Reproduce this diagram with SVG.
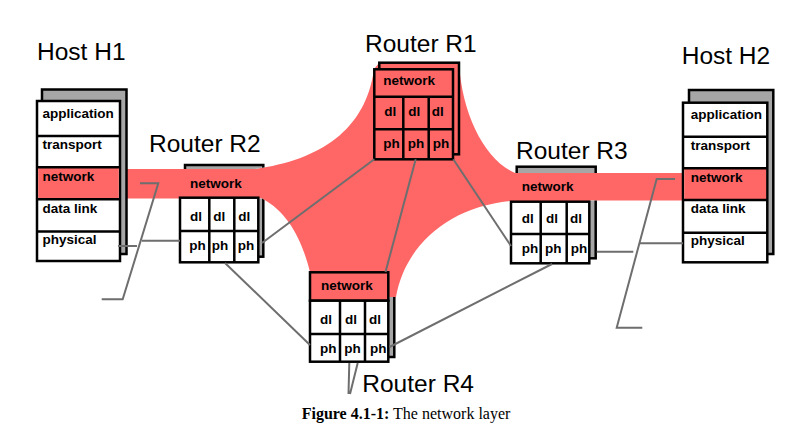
<svg xmlns="http://www.w3.org/2000/svg" xmlns:xlink="http://www.w3.org/1999/xlink" width="795" height="436" viewBox="0 0 795 436">
<style>
.box{fill:#ffffff;stroke:#000000;stroke-width:2.5}
.pbox{fill:#ff6666;stroke:#000000;stroke-width:2.5}
.shadow{fill:#a6a6a6;stroke:#000000;stroke-width:2.5}
.grid{stroke:#000000;stroke-width:2.5;fill:none}
.pink{fill:#ff6666;stroke:none}
.lbl{font-family:"Liberation Sans",Arial,sans-serif;font-size:24.5px;fill:#000000}
.cell{font-family:"Liberation Sans",Arial,sans-serif;font-size:13.5px;font-weight:bold;fill:#000000}
.conn{fill:none;stroke:#6e6e6e;stroke-width:2}
.cap{font-family:"Liberation Serif","Times New Roman",serif;font-size:16px;fill:#000000}
</style>
<defs>
<path id="pinkShape" d="M120,169 L255,169 C320,160 366,130 374,69 L379,63 L459,63 C462,115 485,160 515,173 L683,173 L683,200.5 L515,200.5 C450,205 405,245 396,297 L310,297 L310,272 C302,240 288,212 262,198.5 L120,198.5 Z"/>
<mask id="noPink" maskUnits="userSpaceOnUse" x="0" y="0" width="795" height="436">
<rect x="0" y="0" width="795" height="436" fill="#ffffff"/>
<use xlink:href="#pinkShape" fill="#000000"/>
</mask>
</defs>
<rect x="0" y="0" width="795" height="436" fill="#ffffff"/>

<g id="datapath">
<use xlink:href="#pinkShape" class="pink"/>
</g>

<g id="H1">
<text class="lbl" x="37" y="60">Host H1</text>
<rect class="shadow" x="42" y="89.5" width="84.5" height="164.5"/>
<rect class="box" x="37" y="101" width="83" height="160"/>
<rect class="pink" x="38.2" y="167.3" width="80.6" height="32"/>
<path class="grid" d="M37,136H120M37,167.3H120M37,199.3H120M37,231.5H120"/>
<text class="cell" x="42.5" y="117.5">application</text>
<text class="cell" x="42.5" y="149">transport</text>
<text class="cell" x="42.5" y="180.5">network</text>
<text class="cell" x="42.5" y="212.5">data link</text>
<text class="cell" x="42.5" y="244">physical</text>
</g>

<g id="R2">
<text class="lbl" x="149" y="152.3">Router R2</text>
<rect class="shadow" x="185" y="165" width="78.3" height="91.7" mask="url(#noPink)"/>
<rect class="pink" x="180" y="169" width="78.3" height="29"/>
<text class="cell" x="190" y="188.3">network</text>
<rect class="box" x="180" y="197.7" width="78.3" height="64.6"/>
<path class="grid" d="M180,231H258.3M209.3,197.7V262.3M234.3,197.7V262.3"/>
<text class="cell" x="190" y="220.7">dl</text>
<text class="cell" x="213.3" y="220.7">dl</text>
<text class="cell" x="238.3" y="220.7">dl</text>
<text class="cell" x="189.3" y="250">ph</text>
<text class="cell" x="211.7" y="250">ph</text>
<text class="cell" x="237.7" y="250">ph</text>
</g>

<g id="R1">
<text class="lbl" x="365" y="52">Router R1</text>
<rect class="pbox" x="379.3" y="62.7" width="79.7" height="91.6"/>
<rect class="pbox" x="374.3" y="69.3" width="78.7" height="90"/>
<path class="grid" d="M374.3,96.7H453M374.3,129.3H453M403.3,96.7V159.3M428.7,96.7V159.3"/>
<text class="cell" x="383.3" y="85">network</text>
<text class="cell" x="384.3" y="115.7">dl</text>
<text class="cell" x="408.3" y="115.7">dl</text>
<text class="cell" x="431.7" y="115.7">dl</text>
<text class="cell" x="383.3" y="148.3">ph</text>
<text class="cell" x="407.7" y="148.3">ph</text>
<text class="cell" x="432.7" y="148.3">ph</text>
</g>

<g id="R3">
<text class="lbl" x="516" y="159.3">Router R3</text>
<rect class="shadow" x="516.7" y="166.7" width="79" height="91.6" mask="url(#noPink)"/>
<rect class="pink" x="511" y="173" width="78.3" height="28.7"/>
<text class="cell" x="521.7" y="190.7">network</text>
<rect class="box" x="511" y="201.7" width="78.3" height="61.6"/>
<path class="grid" d="M511,234H589.3M540.7,201.7V263.3M566.7,201.7V263.3"/>
<text class="cell" x="521.7" y="223.3">dl</text>
<text class="cell" x="546" y="223.3">dl</text>
<text class="cell" x="570" y="223.3">dl</text>
<text class="cell" x="521.7" y="252.7">ph</text>
<text class="cell" x="545" y="252.7">ph</text>
<text class="cell" x="570.7" y="252.7">ph</text>
</g>

<g id="R4">
<text class="lbl" x="362.3" y="391.7">Router R4</text>
<rect class="shadow" x="315.5" y="266" width="78.8" height="91" mask="url(#noPink)"/>
<rect class="pbox" x="310" y="272.3" width="78.3" height="28.4"/>
<text class="cell" x="321" y="290">network</text>
<rect class="box" x="310" y="300.7" width="78.3" height="61"/>
<path class="grid" d="M310,334H388.3M340,300.7V361.7M365,300.7V361.7"/>
<text class="cell" x="320" y="324">dl</text>
<text class="cell" x="345" y="324">dl</text>
<text class="cell" x="369" y="324">dl</text>
<text class="cell" x="320" y="352.7">ph</text>
<text class="cell" x="344.3" y="352.7">ph</text>
<text class="cell" x="370" y="352.7">ph</text>
</g>

<g id="H2">
<text class="lbl" x="681.7" y="64.3">Host H2</text>
<rect class="shadow" x="689" y="90" width="84.3" height="164"/>
<rect class="box" x="683" y="102.7" width="84.3" height="159.6"/>
<rect class="pink" x="684.2" y="168.3" width="81.9" height="31.7"/>
<path class="grid" d="M683,136.7H767.3M683,168.3H767.3M683,200H767.3M683,232.7H767.3"/>
<text class="cell" x="690.7" y="119.3">application</text>
<text class="cell" x="690.7" y="150">transport</text>
<text class="cell" x="690.7" y="181.7">network</text>
<text class="cell" x="690.7" y="213.3">data link</text>
<text class="cell" x="690.7" y="245">physical</text>
</g>

<g id="connectors">
<path class="conn" d="M118,246H137M141.7,240.7H180"/>
<path class="conn" d="M262,243L374.3,159.3"/>
<path class="conn" d="M225,263L310,345"/>
<path class="conn" d="M415.7,159.3L385.5,272"/>
<path class="conn" d="M453.3,159.3L511,246"/>
<path class="conn" d="M552,264L389.5,347"/>
<path class="conn" d="M596.7,251.7H633.3M640,243.3H683"/>
<path class="conn" d="M349.3,363L348.5,394M357.7,363L350,394"/>
<path class="conn" d="M140,183.3H158.3L122.7,299.3H101.7"/>
<path class="conn" d="M675,179H656.7L616.7,327.7H642.3"/>
</g>

<text class="cap" x="301.7" y="419"><tspan font-weight="bold">Figure 4.1-1:</tspan> The network layer</text>
</svg>
